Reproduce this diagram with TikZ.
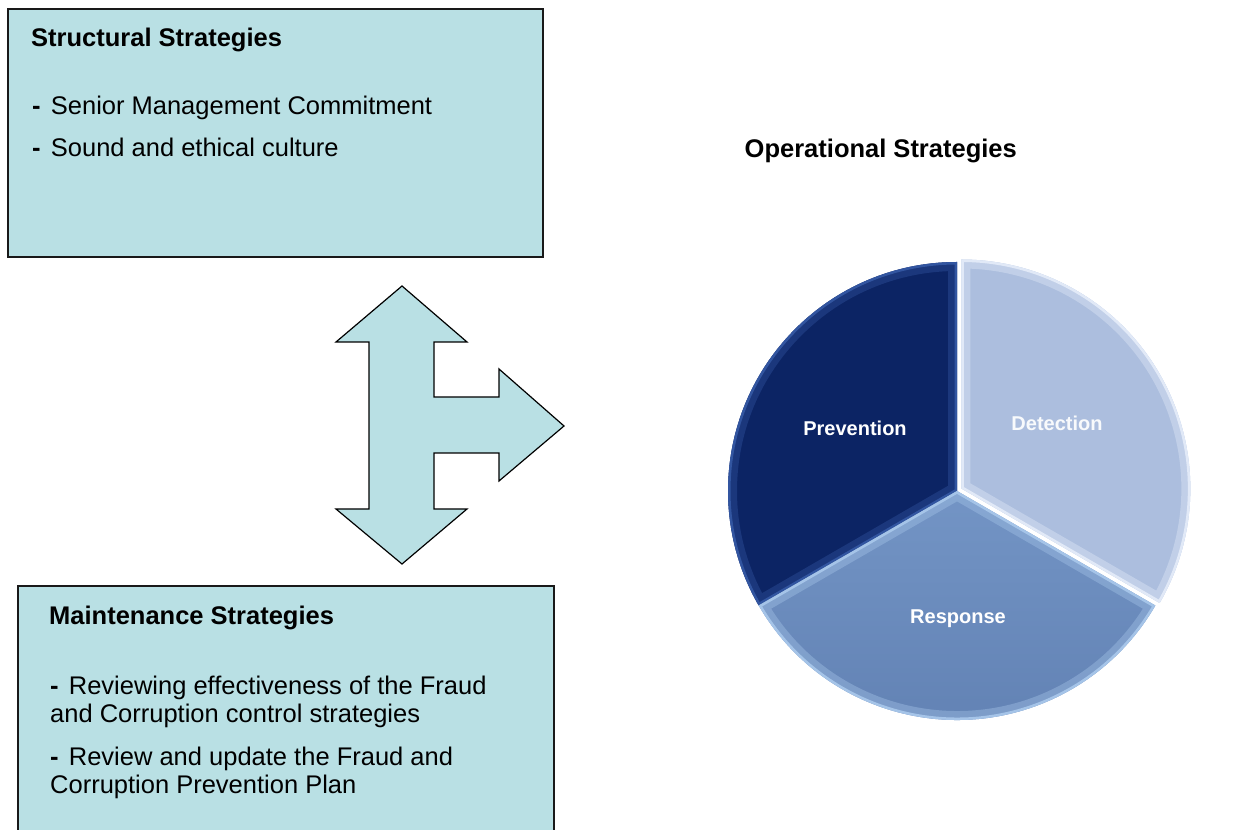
\documentclass[tikz,border=0pt]{standalone}
\usepackage{fontspec}
\setmainfont{Liberation Sans}
\usetikzlibrary{positioning}

\definecolor{boxfill}{RGB}{185,224,228}
\definecolor{boxline}{RGB}{25,25,25}
\definecolor{prevfill}{RGB}{12,36,100}
\definecolor{prevrim}{RGB}{50,85,160}
\definecolor{detfill}{RGB}{172,190,222}
\definecolor{detrim}{RGB}{225,233,247}
\definecolor{resptop}{RGB}{132,167,214}
\definecolor{respbot}{RGB}{98,130,180}
\definecolor{resprim}{RGB}{165,196,232}

% shift, start angle, end angle, fill options, rim colour
\newcommand{\pieslice}[5]{%
  \begin{scope}[shift={#1}]
    \clip (0,0) -- (#2:229) arc (#2:#3:229) -- cycle;
    \path[#4] (-240,-240) rectangle (240,240);
    \draw[#5, opacity=.4, line width=18] (0,0) -- (#2:229) arc (#2:#3:229) -- cycle;
    \draw[#5, line width=5] (0,0) -- (#2:229) arc (#2:#3:229) -- cycle;
  \end{scope}}

\newcommand{\dash}{\textbf{-}\hspace{0.4em}}

\begin{document}
\begin{tikzpicture}[x=1pt, y=1pt,
    panel/.style={draw=boxline, line width=2pt, fill=boxfill, anchor=north west, inner sep=0pt},
    txt/.style={anchor=base west, inner sep=0pt, font=\fontsize{25.5}{30}\selectfont},
    head/.style={txt, font=\fontsize{25.5}{30}\selectfont\bfseries},
    pielabel/.style={text=white, font=\fontsize{20}{24}\selectfont\bfseries}]
  \useasboundingbox (0,0) rectangle (1238,829);

  \node[panel, minimum width=535, minimum height=248] (structural) at (7,821) {};
  \node[panel, minimum width=536, minimum height=262] (maintenance) at (17,244) {};

  \node[head] (structhead) at (31,782) {Structural Strategies};
  \node[txt] (senior) at (32,714) {\dash Senior Management Commitment};
  \node[txt] (culture) at (32,672) {\dash Sound and ethical culture};

  \node[head] (mainthead) at (49,204) {Maintenance Strategies};
  \node[txt] (review) at (50,134) {\dash Reviewing effectiveness of the Fraud};
  \node[txt] (reviewb) at (50,106) {and Corruption control strategies};
  \node[txt] (update) at (50,63) {\dash Review and update the Fraud and};
  \node[txt] (updateb) at (50,35) {Corruption Prevention Plan};

  \node[head, anchor=base east] (ophead) at (1017,671) {Operational Strategies};

  \filldraw[boxfill, draw=black, line width=1.2pt, line join=miter]
    (402,543) -- (467,487) -- (434,487) -- (434,432) -- (499,432) -- (499,460)
    -- (564,403) -- (499,348) -- (499,376) -- (434,376) -- (434,320) -- (467,320)
    -- (402,265) -- (336,320) -- (369,320) -- (369,487) -- (336,487) -- cycle;

  \begin{scope}[shift={(957,338)}]
    \pieslice{(0,0)}{90}{210}{fill=prevfill}{prevrim}
    \pieslice{(0,0)}{210}{330}{top color=resptop, bottom color=respbot}{resprim}
    \pieslice{(30:5)}{-30}{90}{fill=detfill}{detrim}
    \node[pielabel] (prevention) at (-102,63) {Prevention};
    \node[pielabel, text=white!92!detfill] (detection) at (100,68) {Detection};
    \node[pielabel] (response) at (1,-128) {Response};
  \end{scope}
\end{tikzpicture}
\end{document}
